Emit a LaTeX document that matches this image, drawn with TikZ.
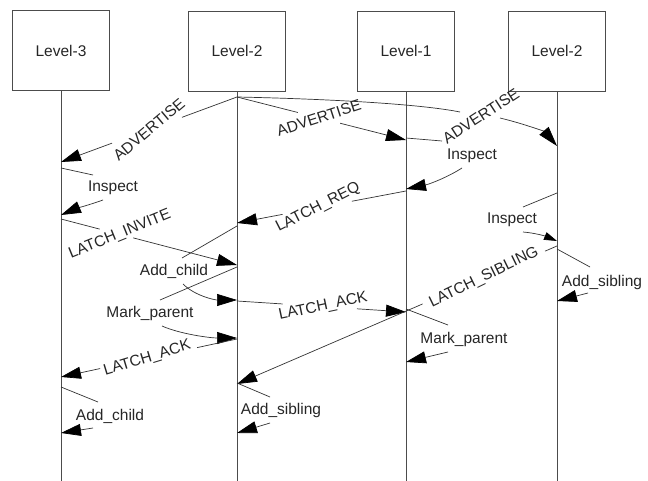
\documentclass[tikz,border=0pt]{standalone}
\usepackage{fontspec}
\setmainfont{Liberation Sans}
\usetikzlibrary{calc,arrows.meta}
\tikzset{
 lbox/.style={draw=black!70, line width=0.8pt, minimum width=97pt, minimum height=80pt, inner sep=0pt, font=\fontsize{15.5}{18}\selectfont, text=black!85},
 life/.style={draw=black!70, line width=0.8pt},
 msg/.style={draw=black!80, line width=0.7pt},
 arr/.style={-{Triangle[length=20pt,width=12pt,color=black]}},
 sarr/.style={-{Triangle[length=13pt,width=8pt,color=black]}},
 lab/.style={font=\fontsize{15.5}{18}\selectfont, text=black!85, inner sep=0pt},
}
\newcommand\gapmsg[8]{%
 \draw[msg] (#2) -- ($(#2)!#4!(#3)$);
 \draw[msg,arr] ($(#2)!#5!(#3)$) -- (#3);
 \node[lab,rotate=#7] (#1) at ($(#2)!#6!(#3)$) {#8};}
\begin{document}
\begin{tikzpicture}[x=1pt,y=-1pt]
\useasboundingbox (0,0) rectangle (648,481);
\fill[white] (0,0) rectangle (648,481);
% boxes
\node[lbox] (b3) at (61,50.5) {Level-3};
\node[lbox] (b2) at (237,51) {Level-2};
\node[lbox] (b1) at (406,51) {Level-1};
\node[lbox] (b4) at (557,51) {Level-2};
\coordinate (e3) at (61,481);
\coordinate (e2) at (237,481);
\coordinate (e1) at (406,481);
\coordinate (e4) at (557,481);
\draw[life] (b3.south) -- (e3);
\draw[life] (b2.south) -- (e2);
\draw[life] (b1.south) -- (e1);
\draw[life] (b4.south) -- (e4);
% coordinates
\coordinate (a0) at (237,97);
\coordinate (a1) at (61,162);
\coordinate (a2) at (406,140);
\coordinate (c1) at (460,112);
\coordinate (c2) at (500,118);
\coordinate (a3) at (557,146);
\coordinate (r0) at (406,191);
\coordinate (r1) at (237,223);
\coordinate (v0) at (61,219);
\coordinate (v1) at (237,265);
\coordinate (k0) at (237,301);
\coordinate (k1) at (406,312);
\coordinate (q0) at (237,339);
\coordinate (q1) at (61,377);
\coordinate (g0) at (557,246);
\coordinate (g1) at (237,384);
% ADVERTISE messages
\gapmsg{advA}{a0}{a1}{0.3125}{0.71}{0.5}{40}{ADVERTISE}
\gapmsg{advB}{a0}{a2}{0.36}{0.61}{0.485}{18}{ADVERTISE}
\draw[msg] (a0) .. controls (330,99) and (420,104) .. (c1);
\draw[msg,arr] (c2) .. controls (525,124) and (545,132) .. (a3);
\node[lab,rotate=33] (advC) at (481,116) {ADVERTISE};
% Inspect at Level-1
\coordinate (i1s) at (406,138);
\coordinate (i1a) at (442,141);
\coordinate (i1b) at (462,168);
\coordinate (i1e) at (406,189);
\draw[msg] (i1s) -- (i1a);
\node[lab] (insp1) at (472,156) {Inspect};
\draw[msg,arr] (i1b) .. controls (448,177) and (430,184) .. (i1e);
% LATCH_REQ
\gapmsg{lreq}{r0}{r1}{0.32}{0.73}{0.52}{27}{LATCH\_REQ}
% Inspect at Level-3
\coordinate (i3s) at (61,168);
\coordinate (i3a) at (93,175);
\coordinate (i3b) at (103,200);
\coordinate (i3e) at (61,215);
\draw[msg] (i3s) -- (i3a);
\node[lab] (insp3) at (113,188) {Inspect};
\draw[msg,arr] (i3b) .. controls (92,204) and (75,209) .. (i3e);
% LATCH_INVITE
\gapmsg{linv}{v0}{v1}{0.22}{0.41}{0.335}{22}{LATCH\_INVITE}
% Add_child at Level-2
\coordinate (ac2s) at (237,226);
\coordinate (ac2a) at (182,258);
\coordinate (ac2b) at (183,284);
\coordinate (ac2e) at (237,300);
\draw[msg] (ac2s) -- (ac2a);
\node[lab] (addc2) at (174,271) {Add\_child};
\draw[msg,arr] (ac2b) .. controls (195,296) and (215,300) .. (ac2e);
% Mark_parent at Level-2
\coordinate (mp2s) at (237,267);
\coordinate (mp2a) at (160,300);
\coordinate (mp2b) at (162,326);
\coordinate (mp2e) at (237,338);
\draw[msg] (mp2s) -- (mp2a);
\node[lab] (markp2) at (150,313) {Mark\_parent};
\draw[msg,arr] (mp2b) .. controls (180,334) and (210,338) .. (mp2e);
% LATCH_ACK messages
\gapmsg{lack1}{k0}{k1}{0.27}{0.71}{0.51}{12}{LATCH\_ACK}
\gapmsg{lack2}{q0}{q1}{0.227}{0.778}{0.51}{17}{LATCH\_ACK}
% LATCH_SIBLING
\gapmsg{lsib}{g0}{g1}{0.0375}{0.42}{0.228}{26}{LATCH\_SIBLING}
% Mark_parent at Level-1
\coordinate (mp1s) at (406,309);
\coordinate (mp1a) at (448,325);
\coordinate (mp1b) at (448,352);
\coordinate (mp1e) at (406,362);
\draw[msg] (mp1s) -- (mp1a);
\node[lab] (markp1) at (464,339) {Mark\_parent};
\draw[msg,arr] (mp1b) -- (mp1e);
% Inspect at right Level-2
\coordinate (i4s) at (557,193);
\coordinate (i4a) at (523,207);
\coordinate (i4b) at (523,232);
\coordinate (i4e) at (557,241);
\draw[msg] (i4s) -- (i4a);
\node[lab] (insp4) at (512,220) {Inspect};
\draw[msg,sarr] (i4b) .. controls (535,233) and (545,236) .. (i4e);
% Add_sibling at right Level-2
\coordinate (as4s) at (557,249);
\coordinate (as4a) at (590,267);
\coordinate (as4b) at (588,293);
\coordinate (as4e) at (557,301);
\draw[msg] (as4s) -- (as4a);
\node[lab] (adds4) at (602,282) {Add\_sibling};
\draw[msg,arr] (as4b) -- (as4e);
% Add_child at Level-3
\coordinate (ac3s) at (61,387);
\coordinate (ac3a) at (98,402);
\coordinate (ac3b) at (93,428);
\coordinate (ac3e) at (61,433);
\draw[msg] (ac3s) -- (ac3a);
\node[lab] (addc3) at (110,416) {Add\_child};
\draw[msg,arr] (ac3b) -- (ac3e);
% Add_sibling at Level-2
\coordinate (as2s) at (237,383);
\coordinate (as2a) at (270,397);
\coordinate (as2b) at (270,423);
\coordinate (as2e) at (237,433);
\draw[msg] (as2s) -- (as2a);
\node[lab] (adds2) at (281,410) {Add\_sibling};
\draw[msg,arr] (as2b) -- (as2e);
\end{tikzpicture}
\end{document}
